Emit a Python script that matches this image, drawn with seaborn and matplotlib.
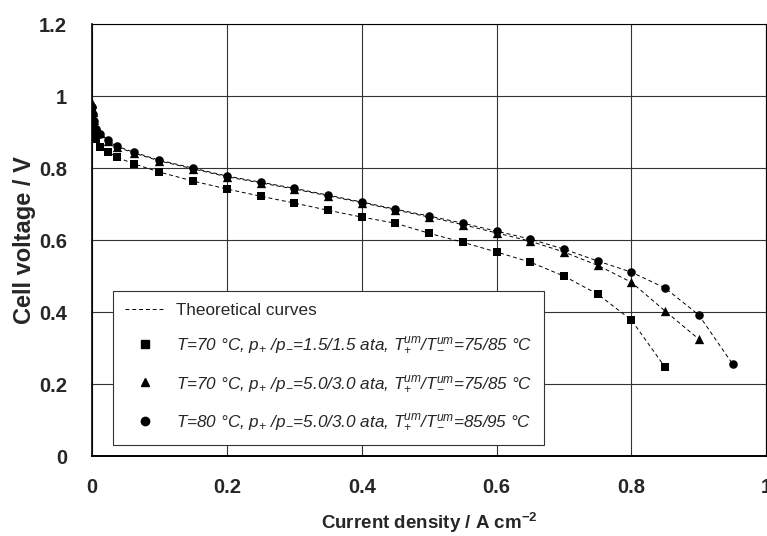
import matplotlib

matplotlib.use("Agg")
import matplotlib.pyplot as plt
import pandas as pd
import seaborn as sns
from matplotlib.lines import Line2D

# Current density (A cm-2) at which the cells were measured
current_short = [0.0, 0.001, 0.003, 0.006, 0.012, 0.024, 0.037, 0.062, 0.1, 0.15,
                 0.2, 0.25, 0.3, 0.35, 0.4, 0.45, 0.5, 0.55, 0.6, 0.65, 0.7, 0.75,
                 0.8, 0.85]
current_mid = current_short + [0.9]
current_long = current_short + [0.9, 0.95]

# Cell voltage (V)
voltage_sq = [0.95, 0.92, 0.90, 0.88, 0.86, 0.845, 0.83, 0.812, 0.789, 0.764,
              0.742, 0.722, 0.703, 0.683, 0.664, 0.647, 0.619, 0.594, 0.567, 0.539,
              0.50, 0.45, 0.378, 0.247]
voltage_tri = [0.98, 0.955, 0.935, 0.915, 0.898, 0.876, 0.859, 0.842, 0.82, 0.798,
               0.776, 0.759, 0.742, 0.723, 0.704, 0.684, 0.664, 0.643, 0.62, 0.597,
               0.567, 0.53, 0.483, 0.403, 0.325]
voltage_circ = [0.97, 0.95, 0.93, 0.91, 0.895, 0.878, 0.861, 0.844, 0.822, 0.80,
                0.778, 0.761, 0.744, 0.725, 0.706, 0.686, 0.667, 0.647, 0.625, 0.603,
                0.575, 0.542, 0.511, 0.467, 0.392, 0.256]

labels = [
    r"T=70 °C, p$_{+}$ /p$_{-}$=1.5/1.5 ata, T$_{+}^{um}$/T$_{-}^{um}$=75/85 °C",
    r"T=70 °C, p$_{+}$ /p$_{-}$=5.0/3.0 ata, T$_{+}^{um}$/T$_{-}^{um}$=75/85 °C",
    r"T=80 °C, p$_{+}$ /p$_{-}$=5.0/3.0 ata, T$_{+}^{um}$/T$_{-}^{um}$=85/95 °C",
]
markers = ["s", "^", "o"]

frames = []
for lab, xs, ys in zip(labels, [current_short, current_mid, current_long],
                       [voltage_sq, voltage_tri, voltage_circ]):
    frames.append(pd.DataFrame({"current": xs, "voltage": ys, "series": lab}))
df = pd.concat(frames, ignore_index=True)

sns.set_style("white")
plt.rcParams["font.family"] = ["Liberation Sans", "DejaVu Sans"]
plt.rcParams["mathtext.fontset"] = "custom"
plt.rcParams["mathtext.rm"] = "Liberation Sans:italic"
plt.rcParams["mathtext.it"] = "Liberation Sans:italic"
plt.rcParams["mathtext.bf"] = "Liberation Sans:bold"

fig = plt.figure(figsize=(7.67, 5.36), dpi=100)
ax = fig.add_axes([0.12, 0.149, 0.879, 0.806])

# theoretical curves, dashed
for lab in labels:
    sub = df[df["series"] == lab]
    sns.lineplot(data=sub, x="current", y="voltage", ax=ax, color="black",
                 linewidth=0.7, dashes=False, sort=False, estimator=None)
for line in ax.lines:
    line.set_dashes((4, 3))

# measured points
for lab, m in zip(labels, markers):
    sub = df[df["series"] == lab]
    sns.scatterplot(data=sub, x="current", y="voltage", ax=ax, marker=m,
                    color="black", s=38 if m != "^" else 45, edgecolor="black",
                    linewidth=0, zorder=3)

ax.set_xlim(0, 1)
ax.set_ylim(0, 1.2)
ax.set_xticks([0, 0.2, 0.4, 0.6, 0.8, 1])
ax.set_xticklabels(["0", "0.2", "0.4", "0.6", "0.8", "1"])
ax.set_yticks([0, 0.2, 0.4, 0.6, 0.8, 1, 1.2])
ax.set_yticklabels(["0", "0.2", "0.4", "0.6", "0.8", "1", "1.2"])
ax.grid(True, color="#333333", linewidth=0.8)
ax.set_axisbelow(True)
ax.tick_params(length=0, labelsize=14.5)
ax.tick_params(axis="x", pad=16)
ax.tick_params(axis="y", pad=18)
for t in ax.get_xticklabels() + ax.get_yticklabels():
    t.set_fontweight("bold")
for s in ax.spines.values():
    s.set_color("black")
    s.set_linewidth(0.8)
ax.spines["left"].set_linewidth(1.2)
ax.spines["bottom"].set_linewidth(1.4)

ax.set_xlabel(r"Current density / A cm$^{\mathbf{-2}}$", fontsize=13.5,
              fontweight="bold", labelpad=10)
ax.set_ylabel("Cell voltage / V", fontsize=17, fontweight="bold", labelpad=2)

handles = [Line2D([], [], color="black", linewidth=0.7, dashes=(4, 3))]
handles += [Line2D([], [], color="black", marker=m, linestyle="none",
                   markersize=6) for m in markers]
leg = ax.legend(handles, ["Theoretical curves"] + labels,
                loc="lower left", bbox_to_anchor=(0.0315, 0.026), frameon=True,
                fancybox=False, edgecolor="#333333", framealpha=1,
                prop={"size": 12.3, "style": "italic"}, labelspacing=1.05,
                borderpad=0.7, handlelength=2.3, handletextpad=0.65,
                borderaxespad=0)
leg.get_frame().set_linewidth(0.8)
leg.get_texts()[0].set_fontstyle("normal")

fig.savefig("out.png", dpi=100)
